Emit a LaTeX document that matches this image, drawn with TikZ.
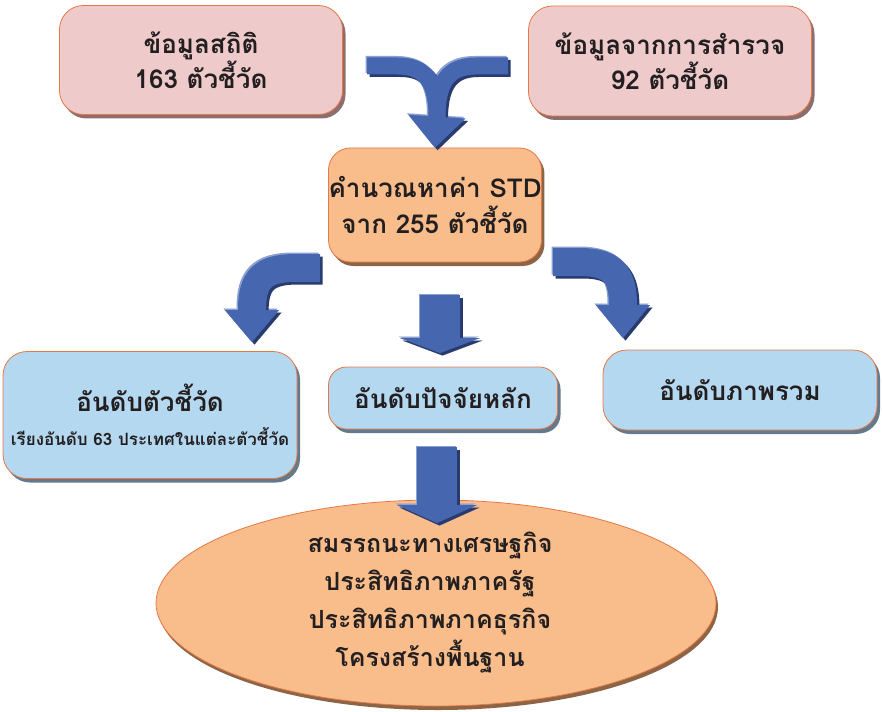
\documentclass[tikz,border=0pt]{standalone}
\usepackage{fontspec}
\newfontfamily\thaifont[Script=Thai]{Loma}
\usetikzlibrary{shapes.geometric, shadows, arrows.meta}
\definecolor{pinkfill}{RGB}{238,202,202}
\definecolor{pinkshade}{RGB}{140,110,110}
\definecolor{orangefill}{RGB}{249,189,139}
\definecolor{orangeshade}{RGB}{140,100,70}
\definecolor{bluefill}{RGB}{180,216,240}
\definecolor{blueshade}{RGB}{100,122,140}
\definecolor{edgeorange}{RGB}{230,120,70}
\definecolor{arrowblue}{RGB}{71,102,176}
\definecolor{arrowshade}{RGB}{40,58,110}
\definecolor{arrowlight}{RGB}{140,160,210}
\definecolor{textdark}{RGB}{35,31,32}
\tikzset{box/.style={draw=edgeorange, line width=0.8pt, rounded corners=24pt, inner sep=0pt,
            align=center, text=textdark, font=\thaifont\bfseries\fontsize{26}{32}\selectfont},
         srcbox/.style={box, fill=pinkfill,
            drop shadow={shadow xshift=3pt, shadow yshift=-4pt, fill=pinkshade, opacity=1}},
         calcbox/.style={box, fill=orangefill, rounded corners=22pt,
            drop shadow={shadow xshift=3pt, shadow yshift=-4pt, fill=orangeshade, opacity=1}},
         rankbox/.style={box, fill=bluefill,
            drop shadow={shadow xshift=3pt, shadow yshift=-4pt, fill=blueshade, opacity=1}},
         goal/.style={draw=edgeorange, line width=0.8pt, ellipse, fill=orangefill, inner sep=0pt,
            align=center, text=textdark, font=\thaifont\bfseries\fontsize{25}{38}\selectfont,
            drop shadow={shadow xshift=2pt, shadow yshift=-4pt, fill=orangeshade, opacity=1}},
         bigarrow/.style={line width=#1, line join=round}}

\begin{document}
\begin{tikzpicture}[x=1pt, y=-1pt]
    \useasboundingbox (0,0) rectangle (882,711);

    % sources
    \node[srcbox, minimum width=283, minimum height=109] (stat) at (201,60) {ข้อมูลสถิติ\\163 ตัวชี้วัด};
    \node[srcbox, minimum width=283, minimum height=110] (survey) at (670,61) {ข้อมูลจากการสำรวจ\\92 ตัวชี้วัด};
    \node[calcbox, minimum width=209, minimum height=114, font=\thaifont\bfseries\fontsize{26}{36}\selectfont]
        (calc) at (435,205) {คำนวณหาค่า STD\\จาก 255 ตัวชี้วัด};

    % rankings
    \node[rankbox, minimum width=294, minimum height=127] (byind) at (150,415)
        {อันดับตัวชี้วัด\\[2pt]{\fontsize{17}{20}\selectfont เรียงอันดับ 63 ประเทศในแต่ละตัวชี้วัด}};
    \node[rankbox, rounded corners=18pt, minimum width=229, minimum height=62] (byfactor) at (443,398) {อันดับปัจจัยหลัก};
    \node[rankbox, minimum width=274, minimum height=80] (overall) at (740,390) {อันดับภาพรวม};

    \node[goal, minimum width=560, minimum height=206] (factors) at (436,603)
        {\hspace*{-12pt}สมรรถนะทางเศรษฐกิจ\\\hspace*{-12pt}ประสิทธิภาพภาครัฐ\\\hspace*{-12pt}ประสิทธิภาพภาคธุรกิจ\\\hspace*{-12pt}โครงสร้างพื้นฐาน};

    % free ends of the block arrows
    \coordinate (inA) at (367,66);
    \coordinate (inB) at (508,66);
    \coordinate (outL) at (320,268);
    \coordinate (tipL) at (252,342);
    \coordinate (outR) at (553,262);
    \coordinate (tipR) at (623,338);
    \coordinate (outM) at (440,295);
    \coordinate (tipM) at (440,353);
    \coordinate (outB) at (437,447);
    \coordinate (tipB) at (437,523);

    % block arrows: light edge, dark edge, face
    \foreach \sx/\sy/\col in {-1.5/1.5/arrowlight, 2.5/-2.5/arrowshade, 0/0/arrowblue} {
        \begin{scope}[transform canvas={shift={(\sx pt,\sy pt)}}, draw=\col]
            \draw[bigarrow=17pt, -{Triangle[width=57pt, length=31pt, line width=0.1pt]}]
                (inA) -- (398,66) .. controls (427,66) and (437,84) .. (437,117) -- (calc.north);
            \draw[bigarrow=17pt] (inB) -- (476,66) .. controls (447,66) and (437,84) .. (437,117);
            \draw[bigarrow=28pt, -{Triangle[width=54pt, length=32pt, line width=0.1pt]}]
                (outL) -- (295,268) .. controls (262,268) and (252,280) .. (252,310) -- (tipL);
            \draw[bigarrow=28pt, -{Triangle[width=54pt, length=33pt, line width=0.1pt]}]
                (outR) -- (580,262) .. controls (613,262) and (623,275) .. (623,305) -- (tipR);
            \draw[bigarrow=40pt, -{Triangle[width=80pt, length=15pt, line width=0.1pt]}] (outM) -- (tipM);
            \draw[bigarrow=40pt, -{Triangle[width=80pt, length=18pt, line width=0.1pt]}] (outB) -- (tipB);
        \end{scope}
    }
\end{tikzpicture}
\end{document}
